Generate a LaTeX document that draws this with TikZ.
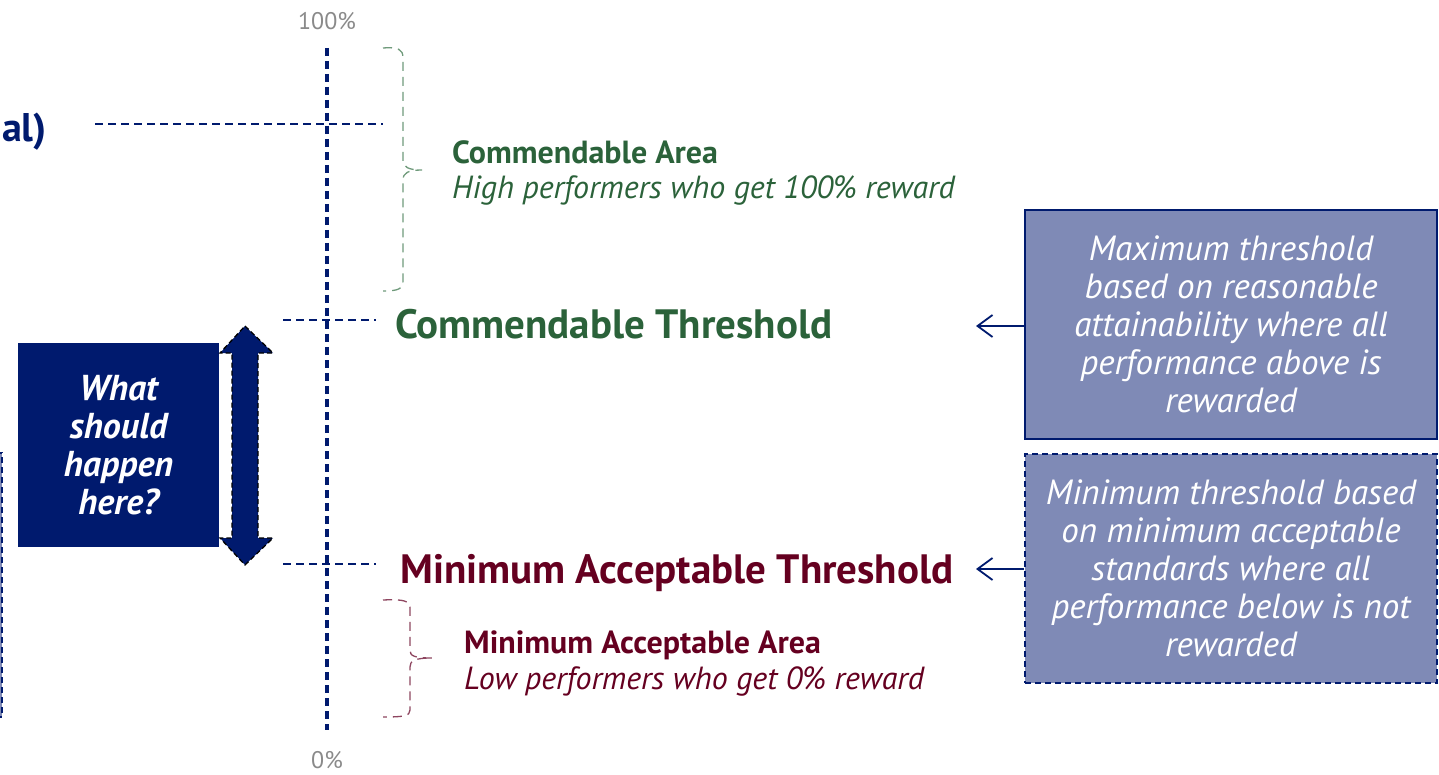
\documentclass[tikz,border=0pt]{standalone}
\usepackage{fontspec}
\setmainfont{PT Sans}
\usetikzlibrary{arrows.meta}
\definecolor{navy}{HTML}{001A6E}
\definecolor{lav}{HTML}{7F8AB6}
\definecolor{dgreen}{HTML}{2B623A}
\definecolor{lgreen}{HTML}{6F9A7B}
\definecolor{maroon}{HTML}{650020}
\definecolor{lmaroon}{HTML}{8E4660}
\definecolor{axgray}{HTML}{8A8A8A}
\tikzset{
  axisline/.style={navy, line width=3.5pt, dash pattern=on 8pt off 5pt},
  levline/.style={navy, line width=2pt, dash pattern=on 8pt off 5pt},
  gbrace/.style={lgreen, line width=1.3pt, dash pattern=on 9pt off 6pt},
  mbrace/.style={lmaroon, line width=1.3pt, dash pattern=on 9pt off 6pt},
  infobox/.style={fill=lav, draw=navy, line width=2pt, minimum width=412pt, minimum height=229pt,
    text=white, align=center, font=\fontsize{35}{38}\selectfont\itshape, inner sep=0pt},
  ptr/.style={navy, line width=1.8pt, -{Straight Barb[length=15pt,width=22pt]}},
  pct/.style={text=axgray, font=\fontsize{24}{28}\selectfont, inner sep=0pt},
  thresh/.style={font=\fontsize{41}{48}\selectfont\bfseries, inner sep=0pt, anchor=base west},
  areahead/.style={font=\fontsize{32}{36}\selectfont\bfseries, inner sep=0pt, anchor=base west},
  areasub/.style={font=\fontsize{32}{36}\selectfont\itshape, inner sep=0pt, anchor=base west}
}
\begin{document}
\begin{tikzpicture}[x=1pt, y=-1pt]
\useasboundingbox (0,0) rectangle (1439,775);
% partial box at left edge
\draw[fill=lav, draw=navy, line width=2pt, dash pattern=on 6pt off 4pt] (-60,453) rectangle (2,717);
% axis labels
\node[pct, anchor=base] (p100) at (327,30) {100\%};
\node[pct, anchor=base] (p0) at (327,768) {0\%};
% axis
\coordinate (axtop) at (327,48);
\coordinate (axbot) at (327,730);
\draw[axisline] (axtop) -- (axbot);
% left cut text
\node[font=\fontsize{40}{44}\selectfont\bfseries, text=navy, inner sep=0pt, anchor=base east] (goal) at (47,142) {al)};
% level lines
\coordinate (g1) at (95,124); \coordinate (g2) at (383,124);
\draw[levline] (g1) -- (g2);
\coordinate (c1) at (283,320); \coordinate (c2) at (376,320);
\draw[levline] (c1) -- (c2);
\coordinate (m1) at (283,564); \coordinate (m2) at (376,564);
\draw[levline] (m1) -- (m2);
% braces
\draw[gbrace] (383,48) .. controls (398,47) and (403,49) .. (403,58) -- (403,160)
  .. controls (403,167) and (408,170) .. (422,170)
  .. controls (408,170) and (403,173) .. (403,180) -- (403,281)
  .. controls (403,289) and (398,291) .. (383,291);
\draw[mbrace] (383,600) .. controls (404,599) and (410,601) .. (410,608) -- (410,650)
  .. controls (410,656) and (414,658) .. (432,658)
  .. controls (414,658) and (410,661) .. (410,667) -- (410,710)
  .. controls (410,716) and (404,717) .. (383,717);
% thresholds
\node[thresh, text=dgreen] (ct) at (395,338) {Commendable Threshold};
\node[thresh, text=maroon] (mt) at (400,583) {Minimum Acceptable Threshold};
% areas
\node[areahead, text=dgreen] (ca) at (452,164) {Commendable Area};
\node[areasub, text=dgreen] (cs) at (452,199) {High performers who get 100\% reward};
\node[areahead, text=maroon] (ma) at (464,653) {Minimum Acceptable Area};
\node[areasub, text=maroon] (ms) at (464,689) {Low performers who get 0\% reward};
% question box
\node[fill=navy, minimum width=201pt, minimum height=204pt, inner sep=0pt, text=white, align=center,
  font=\fontsize{36}{38}\selectfont\bfseries\itshape] (q) at (118.5,445) {What\\should\\happen\\here?};
% double arrow
\draw[fill=navy, draw=black, line width=1.3pt, dash pattern=on 5pt off 3pt]
  (245,326) -- (273,353) -- (258,353) -- (258,538) -- (273,538) -- (245,565)
  -- (220,538) -- (232,538) -- (232,353) -- (220,353) -- cycle;
% info boxes
\node[infobox] (maxb) at (1231,324.5) {Maximum threshold\\based on reasonable\\attainability where all\\performance above is\\rewarded};
\node[infobox, dash pattern=on 6pt off 4pt] (minb) at (1231,568.5) {Minimum threshold based\\on minimum acceptable\\standards where all\\performance below is not\\rewarded};
\coordinate (a1) at (976,326);
\coordinate (a2) at (976,569);
\draw[ptr] (maxb.west |- a1) -- (a1);
\draw[ptr] (minb.west |- a2) -- (a2);
\end{tikzpicture}
\end{document}
